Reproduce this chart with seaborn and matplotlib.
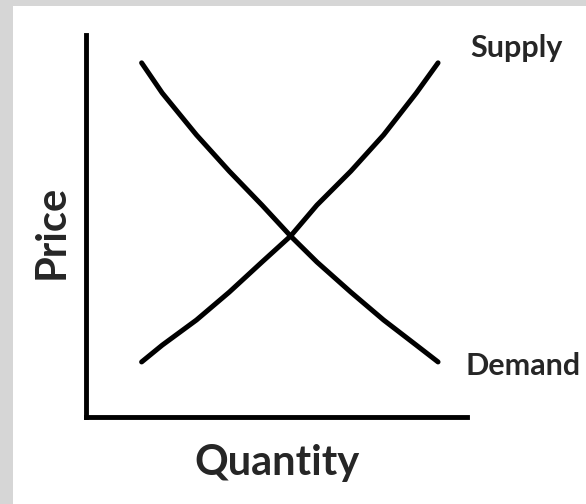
import pandas as pd
import seaborn as sns
import matplotlib.pyplot as plt
from matplotlib.patches import Rectangle

# ----------------------------------------
# Datos (cantidad 0-10, precio 0-10)
# ----------------------------------------
quantity = [1.46, 2.0, 2.9, 3.76, 4.62, 5.37, 6.06, 6.95, 7.81, 8.67, 9.24]
demand_price = [9.27, 8.48, 7.38, 6.43, 5.54, 4.73, 4.05, 3.26, 2.53, 1.87, 1.43]
supply_price = [1.43, 1.87, 2.53, 3.26, 4.05, 4.73, 5.54, 6.43, 7.38, 8.48, 9.27]
curve_labels = ['Supply', 'Demand']

W, H = 586, 504

df = pd.concat([
    pd.DataFrame({'quantity': quantity, 'price': demand_price, 'curve': 'Demand'}),
    pd.DataFrame({'quantity': quantity, 'price': supply_price, 'curve': 'Supply'}),
])

sns.set_style('white')
plt.rcParams['font.family'] = ['Lato', 'DejaVu Sans']

fig = plt.figure(figsize=(W / 100, H / 100), dpi=100)
fig.patch.set_facecolor('#d6d6d6')
# panel blanco
fig.add_artist(Rectangle((13 / W, 0), 1 - 13 / W, (H - 6) / H,
                         transform=fig.transFigure, facecolor='white',
                         edgecolor='none', zorder=0))

left, right, top, bottom = 86, 467, 35, 416.5
ax = fig.add_axes([left / W, (H - bottom) / H, (right - left) / W, (bottom - top) / H])
ax.set_facecolor('none')

sns.lineplot(data=df, x='quantity', y='price', units='curve', estimator=None,
             sort=False, color='black', linewidth=3.6, ax=ax, legend=False)

ax.set_xlim(0, 10)
ax.set_ylim(0, 10)
ax.set_xticks([])
ax.set_yticks([])
for side in ['top', 'right']:
    ax.spines[side].set_visible(False)
for side in ['left', 'bottom']:
    ax.spines[side].set_color('black')
    ax.spines[side].set_linewidth(3.5)
    ax.spines[side].set_capstyle('projecting')

ax.set_xlabel('Quantity', fontsize=30, fontweight='bold', va='baseline')
ax.xaxis.set_label_coords(0.5, (bottom - 475) / (bottom - top))
ax.set_ylabel('Price', fontsize=30, fontweight='bold', va='baseline')
ax.yaxis.set_label_coords((64 - left) / (right - left), (bottom - 232) / (bottom - top))

# etiquetas de las curvas
fig.text(470 / W, 1 - 57 / H, curve_labels[0], fontsize=22,
         fontweight='bold', ha='left', va='baseline')
fig.text(465 / W, 1 - 375 / H, curve_labels[1], fontsize=22,
         fontweight='bold', ha='left', va='baseline')

fig.savefig('out.png', dpi=100, facecolor=fig.get_facecolor())
